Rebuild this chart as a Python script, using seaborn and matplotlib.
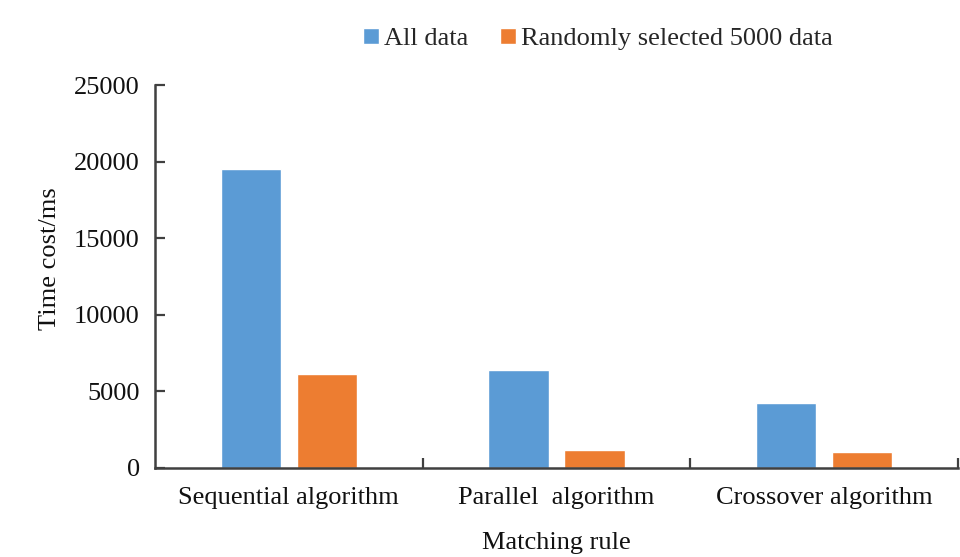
import matplotlib
matplotlib.use("Agg")
import matplotlib.pyplot as plt
import seaborn as sns
import pandas as pd

categories = ["Sequential algorithm", "Parallel  algorithm", "Crossover algorithm"]
series_names = ["All data", "Randomly selected 5000 data"]
all_data = [19500, 6400, 4250]
random_5000 = [6150, 1180, 1050]
colors = ["#5B9BD5", "#ED7D31"]
yticks = [0, 5000, 10000, 15000, 20000, 25000]

df = pd.DataFrame({
    "cat": categories * 2,
    "series": [series_names[0]] * 3 + [series_names[1]] * 3,
    "val": all_data + random_5000,
})

sns.set_theme(style="white")
plt.rcParams["font.family"] = ["Liberation Serif", "DejaVu Serif"]

fig = plt.figure(figsize=(9.6, 5.57), dpi=100)
ax = fig.add_axes([155/960, 1-468/557, (958-155)/960, (468-85)/557])

sns.barplot(data=df, x="cat", y="val", hue="series", order=categories,
            hue_order=series_names, palette=colors, width=0.568, gap=0.21,
            saturation=1, ax=ax, legend=True)

ax.set_ylim(0, 25000)
ax.set_xlim(-0.5, 2.5)
ax.set_yticks(yticks)
ax.set_yticklabels([str(t) for t in yticks])
ax.set_xticks([0.5, 1.5, 2.5], minor=False)
ax.set_xticks([0, 1, 2], minor=True)
ax.set_xticklabels([])
ax.set_xticklabels(categories, minor=True)
ax.tick_params(axis="x", which="minor", bottom=True, length=0, labelsize=19, pad=14,
               colors="#111111")
ax.tick_params(axis="x", which="major", bottom=True, direction="in", length=7, width=1.6,
               color="#404040")
ax.tick_params(axis="y", left=True, direction="in", length=7, width=1.6, color="#404040",
               labelsize=19, pad=11, labelcolor="#111111")

for s in ["top", "right"]:
    ax.spines[s].set_visible(False)
for s in ["left", "bottom"]:
    ax.spines[s].set_color("#404040")
    ax.spines[s].set_linewidth(1.8)

ax.set_xlabel("Matching rule", fontsize=19, labelpad=16, color="#111111")
ax.set_ylabel("Time cost/ms", fontsize=19, color="#111111")
ax.yaxis.set_label_coords((61-155)/803, (468-259)/383)

handles, labels = ax.get_legend_handles_labels()
ax.legend(handles, labels, loc="center", bbox_to_anchor=(598/960, 1-39/557),
          bbox_transform=fig.transFigure, ncol=2, frameon=False, fontsize=19,
          handlelength=0.6, handleheight=0.6, handletextpad=0.2, columnspacing=1.2)

fig.savefig("out.png", dpi=100)
